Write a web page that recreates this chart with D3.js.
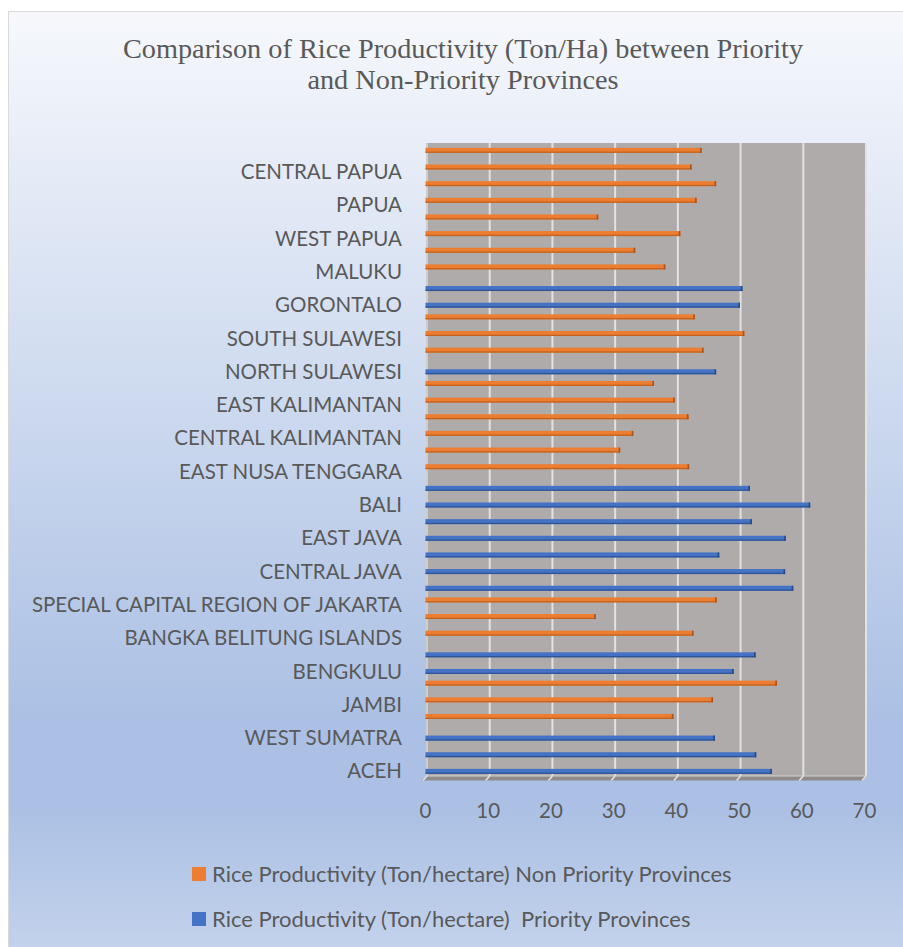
<!DOCTYPE html>
<html>
<head>
<meta charset="utf-8">
<script src="https://cdn.jsdelivr.net/npm/d3@7"></script>
<style>
  body { margin: 0; background: #fff; }
  text { fill: #595959; }
</style>
</head>
<body>
<div class="chart"></div>
<script>
/*---------- DATA ----------*/

// provinces from the bottom of the chart upwards
const provinces = [
  "ACEH", "NORTH SUMATRA", "WEST SUMATRA", "RIAU", "JAMBI", "SOUTH SUMATRA",
  "BENGKULU", "LAMPUNG", "BANGKA BELITUNG ISLANDS", "RIAU ISLANDS",
  "SPECIAL CAPITAL REGION OF JAKARTA", "WEST JAVA", "CENTRAL JAVA",
  "SPECIAL REGION OF YOGYAKARTA", "EAST JAVA", "BANTEN", "BALI",
  "WEST NUSA TENGGARA", "EAST NUSA TENGGARA", "WEST KALIMANTAN",
  "CENTRAL KALIMANTAN", "SOUTH KALIMANTAN", "EAST KALIMANTAN",
  "NORTH KALIMANTAN", "NORTH SULAWESI", "CENTRAL SULAWESI", "SOUTH SULAWESI",
  "SOUTHEAST SULAWESI", "GORONTALO", "WEST SULAWESI", "MALUKU", "NORTH MALUKU",
  "WEST PAPUA", "SOUTHWEST PAPUA", "PAPUA", "SOUTH PAPUA", "CENTRAL PAPUA",
  "HIGHLAND PAPUA"
];

// Rice Productivity (Ton/hectare) Non Priority Provinces
const nonPriority = [
  null, null, null, 39.3, 45.6, 55.8, null, null, 42.5, 26.9,
  46.2, null, null, null, null, null, null, null, 41.8, 30.8,
  32.9, 41.7, 39.5, 36.2, null, 44.1, 50.6, 42.7, null, null,
  38.0, 33.2, 40.4, 27.3, 43.0, 46.1, 42.2, 43.8
];

// Rice Productivity (Ton/hectare) Priority Provinces
const priority = [
  55.0, 52.5, 45.9, null, null, null, 48.9, 52.4, null, null,
  null, 58.4, 57.1, 46.6, 57.2, 51.8, 61.1, 51.5, null, null,
  null, null, null, null, 46.1, null, null, null, 49.9, 50.3,
  null, null, null, null, null, null, null, null
];

const xTicks = [0, 10, 20, 30, 40, 50, 60, 70];

const seriesNames = [
  "Rice Productivity (Ton/hectare) Non Priority Provinces",
  "Rice Productivity (Ton/hectare)  Priority Provinces"
];

/*---------- D3 STUFF ----------*/

const SIZE = {X: 903, Y: 947};
const COLORS = {
  non: {main: "#ed7d31", side: "#c2621f", end: "#a9541a"},
  pri: {main: "#4472c4", side: "#2f5597", end: "#274a85"}
};

const svg = d3.select(".chart").append("svg")
    .attr("width", SIZE.X)
    .attr("height", SIZE.Y);

//background gradient (chart area)
const defs = svg.append("defs");
const grad = defs.append("linearGradient")
    .attr("id", "bg")
    .attr("x1", 0).attr("y1", 0).attr("x2", 0).attr("y2", 1);
grad.append("stop").attr("offset", "0%").attr("stop-color", "#f6f8fc");
grad.append("stop").attr("offset", "74%").attr("stop-color", "#abc0e4");
grad.append("stop").attr("offset", "83%").attr("stop-color", "#abc0e4");
grad.append("stop").attr("offset", "100%").attr("stop-color", "#c7d5ed");

svg.append("rect")
    .attr("x", 8.5).attr("y", 11.5)
    .attr("width", 930).attr("height", 960)
    .attr("fill", "url(#bg)")
    .attr("stroke", "#d9d9d9");

//title
const title = svg.append("text")
    .attr("text-anchor", "middle")
    .style("font-family", "'Liberation Serif', serif")
    .style("font-size", "28.3px");
title.append("tspan").attr("x", 463).attr("y", 58)
    .text("Comparison of Rice Productivity (Ton/Ha) between Priority");
title.append("tspan").attr("x", 463).attr("y", 89)
    .text("and Non-Priority Provinces");

//scales
const x = d3.scaleLinear()
    .domain([0, 70])
    .range([427, 866]);

const y = d3.scaleBand()
    .domain(provinces.slice().reverse())
    .range([144.5, 777.2])
    .paddingInner(0.4)
    .paddingOuter(0.2);

const ySub = d3.scaleBand()
    .domain(["non", "pri"])
    .range([0, y.bandwidth()]);

//back wall
const WALL = {TOP: 143, BOTTOM: 776};
svg.append("rect")
    .attr("x", x(0) - 1).attr("y", WALL.TOP)
    .attr("width", x(70) - x(0) + 1).attr("height", WALL.BOTTOM - WALL.TOP)
    .attr("fill", "#afabaa");

//gridlines
svg.append("g")
    .selectAll("line")
    .data(xTicks)
    .enter()
    .append("line")
        .attr("x1", d => x(d)).attr("x2", d => x(d))
        .attr("y1", WALL.TOP).attr("y2", WALL.BOTTOM)
        .attr("stroke", d => d === 0 ? "#cfcdcc" : "#e2e2e2")
        .attr("stroke-width", 2);

//floor
svg.append("path")
    .attr("d", `M${x(0) - 1},${WALL.BOTTOM} L${x(70) + 1},${WALL.BOTTOM} L${x(70) - 3},${WALL.BOTTOM + 4.5} L${x(0) - 5},${WALL.BOTTOM + 4.5} Z`)
    .attr("fill", "#8f8b8a");
svg.append("line")
    .attr("x1", x(0) - 1).attr("x2", x(70) + 1)
    .attr("y1", WALL.BOTTOM).attr("y2", WALL.BOTTOM)
    .attr("stroke", "#d4d2d1").attr("stroke-width", 1.2);
svg.append("g")
    .selectAll("line")
    .data(xTicks)
    .enter()
    .append("line")
        .attr("x1", d => x(d)).attr("x2", d => x(d) - 4)
        .attr("y1", WALL.BOTTOM).attr("y2", WALL.BOTTOM + 4.5)
        .attr("stroke", "#e2e2e2").attr("stroke-width", 1.6);

//bars
function drawSeries(values, key) {
  const data = provinces
      .map((p, i) => ({name: p, value: values[i]}))
      .filter(d => d.value !== null);
  const c = COLORS[key];
  const bh = ySub.bandwidth();

  const g = svg.append("g").attr("class", "series " + key)
      .selectAll("g")
      .data(data)
      .enter()
      .append("g")
          .attr("transform", d => `translate(0, ${y(d.name) + ySub(key)})`);

  g.append("rect")
      .attr("x", x(0) - 1.5)
      .attr("y", 0)
      .attr("width", d => x(d.value) - x(0) + 1.5)
      .attr("height", bh)
      .attr("fill", c.main);
  g.append("rect")
      .attr("x", x(0) - 1.5)
      .attr("y", bh - 1.3)
      .attr("width", d => x(d.value) - x(0) + 1.5)
      .attr("height", 1.3)
      .attr("fill", c.side);
  g.append("rect")
      .attr("x", d => x(d.value) - 1.6)
      .attr("y", 0)
      .attr("width", 1.6)
      .attr("height", bh)
      .attr("fill", c.end);
}

drawSeries(nonPriority, "non");
drawSeries(priority, "pri");

//axes
const xAxis = svg.append("g")
    .attr("transform", "translate(-2, 803.8)")
    .call(d3.axisBottom(x).tickValues(xTicks).tickSize(0).tickPadding(0));

const yAxis = svg.append("g")
    .attr("transform", "translate(402, 3)")
    .call(d3.axisLeft(y)
        .tickValues(provinces.filter((p, i) => i % 2 === 0))
        .tickSize(0).tickPadding(0));

[xAxis, yAxis].forEach(a => {
  a.select(".domain").remove();
  a.selectAll("text")
      .attr("fill", "#595959")
      .style("font-family", "Lato, sans-serif");
});
xAxis.selectAll("text").style("font-size", "20.5px");
yAxis.selectAll("text").style("font-size", "20.5px");

//legend
const legend = svg.append("g")
    .selectAll("g")
    .data([{name: seriesNames[0], key: "non"}, {name: seriesNames[1], key: "pri"}])
    .enter()
    .append("g")
        .attr("transform", (d, i) => `translate(192, ${867 + i * 45})`);

legend.append("rect")
    .attr("width", 14).attr("height", 14)
    .attr("fill", d => COLORS[d.key].main);

legend.append("text")
    .attr("x", 20).attr("y", 14.8)
    .style("font-family", "Lato, sans-serif")
    .style("font-size", "22px")
    .style("white-space", "pre")
    .text(d => d.name);
</script>
</body>
</html>
